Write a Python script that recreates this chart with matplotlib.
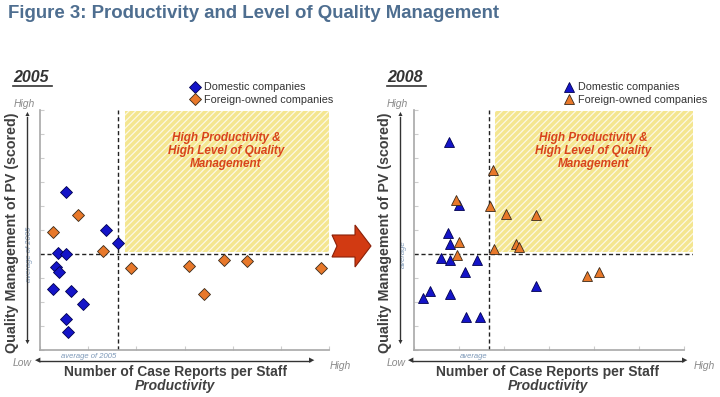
import matplotlib.pyplot as plt
from matplotlib.patches import Rectangle, Polygon

plt.rcParams['font.family'] = ['Liberation Sans', 'DejaVu Sans']
plt.rcParams['hatch.linewidth'] = 0.9

# 2005 panel (x = productivity, y = quality score)
dom05_x = [0.55, 1.37, 1.61, 0.37, 0.54, 0.33, 0.40, 0.26, 0.64, 0.90, 0.53, 0.59]
dom05_y = [6.60, 5.00, 4.45, 4.05, 4.00, 3.47, 3.26, 2.53, 2.47, 1.92, 1.28, 0.76]
for05_x = [0.28, 0.79, 1.31, 1.89, 3.09, 3.82, 4.30, 3.40, 5.84]
for05_y = [4.93, 5.63, 4.14, 3.43, 3.51, 3.75, 3.71, 2.32, 3.43]
avg05_x, avg05_y = 1.62, 4.0

# 2008 panel
dom08_x = [0.77, 1.00, 0.75, 0.80, 0.59, 0.80, 1.41, 1.13, 0.36, 0.21, 0.79, 2.72, 1.16, 1.47]
dom08_y = [8.68, 6.04, 4.89, 4.40, 3.82, 3.75, 3.75, 3.26, 2.46, 2.18, 2.32, 2.67, 1.36, 1.39]
for08_x = [1.75, 0.93, 1.70, 2.04, 2.72, 1.00, 2.27, 2.34, 1.77, 0.96, 3.85, 4.12]
for08_y = [7.50, 6.25, 6.00, 5.67, 5.63, 4.51, 4.40, 4.31, 4.19, 3.96, 3.08, 3.26]
avg08_x, avg08_y = 1.66, 4.0

legend_labels = ['Domestic companies', 'Foreign-owned companies']
zone_text = 'High Productivity &\nHigh Level of Quality\nManagement'

W, H = 720, 397
fig = plt.figure(figsize=(7.2, 3.97), dpi=100)


def fx(px):
    return px / W


def fy(py):
    return 1 - py / H


BLUE = '#1414C8'
ORANGE = '#E8782A'
GREY = '#8A8A8A'
AVG = '#7C98B8'


def panel(left, right, year, dx, dy, fx_, fy_, ax_, ay_, marker, ms, xmax, avg_label,
          leg_x, arr_x, arr_x0, arr_x1, lowx, highx):
    ax = fig.add_axes([fx(left), fy(350), fx(right - left), fy(110) - fy(350)])
    ax.set_xlim(0, xmax)
    ax.set_ylim(0, 10)
    ax.set_xticks(range(7))
    ax.set_yticks(range(11))
    ax.tick_params(direction='in', length=3, color='#cccccc', labelleft=False, labelbottom=False)
    for s in ['top', 'right']:
        ax.spines[s].set_visible(False)
    for s in ['left', 'bottom']:
        ax.spines[s].set_color('#a8a8a8')
        ax.spines[s].set_linewidth(1.2)
    ax.spines['bottom'].set_bounds(0, 6)

    ax.add_patch(Rectangle((ax_ + 0.15, ay_ + 0.1), 6.0 - ax_ - 0.15 + (xmax - 6), 9.85 - ay_,
                           facecolor='#F4E690', edgecolor='#FCF8E4', hatch='/////', lw=0, zorder=0))
    ax.text((ax_ + 6.0 + (xmax - 6)) / 2 + 0.05, 9.1, zone_text, ha='center', va='top',
            color='#D8441C', fontsize=8.5, fontweight='bold', style='italic',
            linespacing=1.15)
    ax.axvline(ax_, color='#222222', ls=(0, (3, 2)), lw=1)
    ax.axhline(ay_, color='#222222', ls=(0, (3, 2)), lw=1)

    ms_edge = 0.6
    h1, = ax.plot(dx, dy, ls='none', marker=marker, ms=ms, color=BLUE,
                  mec='#000050', mew=ms_edge, zorder=3)
    h2, = ax.plot(fx_, fy_, ls='none', marker=marker, ms=ms, color=ORANGE,
                  mec='#3a2a1a', mew=ms_edge, zorder=3)

    fig.legend([h1, h2], legend_labels, loc='upper left',
               bbox_to_anchor=(fx(leg_x), fy(77)), frameon=False, fontsize=7.8,
               handletextpad=0.35, labelspacing=0.25, borderpad=0, handlelength=1.0,
               labelcolor='#333333')

    # year heading
    fig.text(fx(left - 27), fy(77), year, fontsize=11.5, fontweight='bold', style='italic',
             color='#333333', va='center', ha='left')
    fig.add_artist(plt.Line2D([fx(left - 27), fx(left + 12)], [fy(86), fy(86)],
                              color='#333333', lw=1.2))

    # axis arrows
    fig.add_artist(plt.Line2D([fx(arr_x), fx(arr_x)], [fy(117), fy(340)], color='#333333', lw=1.0))
    fig.text(fx(arr_x), fy(115), '\u25B2', fontsize=5, ha='center', va='center', color='#333333')
    fig.text(fx(arr_x), fy(342), '\u25BC', fontsize=5, ha='center', va='center', color='#333333')
    fig.add_artist(plt.Line2D([fx(arr_x0 + 2), fx(arr_x1 - 2)], [fy(361), fy(361)], color='#333333', lw=1.0))
    fig.text(fx(arr_x0), fy(361), '\u25C0', fontsize=5, ha='center', va='center', color='#333333')
    fig.text(fx(arr_x1), fy(361), '\u25B6', fontsize=5, ha='center', va='center', color='#333333')

    fig.text(fx(arr_x - 3), fy(104), 'High', fontsize=7.5, style='italic', color=GREY,
             ha='center', va='center')
    fig.text(fx(lowx), fy(363), 'Low', fontsize=7.5, style='italic', color=GREY,
             ha='center', va='center')
    fig.text(fx(highx), fy(366), 'High', fontsize=7.5, style='italic', color=GREY,
             ha='center', va='center')

    cx = (arr_x0 + arr_x1) / 2
    fig.text(fx(cx), fy(372), 'Number of Case Reports per Staff', fontsize=10,
             fontweight='bold', color='#404040', ha='center', va='center')
    fig.text(fx(cx), fy(386), 'Productivity', fontsize=10, fontweight='bold',
             style='italic', color='#404040', ha='center', va='center')
    fig.text(fx(arr_x - 15), fy(233), 'Quality Management of PV (scored)', fontsize=10.3,
             fontweight='bold', color='#404040', ha='center', va='center', rotation=90)

    # average labels
    ax.text(-0.15, ay_, avg_label, rotation=90, fontsize=5.5, style='italic', color=AVG,
            ha='right', va='center')
    ax.text(ax_ - 0.03, -0.12, avg_label, fontsize=5.5, style='italic', color=AVG,
            ha='right', va='top')
    return ax


panel(40, 329, '2005', dom05_x, dom05_y, for05_x, for05_y, avg05_x, avg05_y, 'D', 5.8, 6.0,
      'average of 2005', 184, 27, 38, 312, 22, 340)
panel(414, 693, '2008', dom08_x, dom08_y, for08_x, for08_y, avg08_x, avg08_y, '^', 7.8, 6.2,
      'average', 558, 400, 411, 685, 396, 704)

fig.text(fx(8), fy(14), 'Figure 3: Productivity and Level of Quality Management',
         fontsize=13.4, fontweight='bold', color='#4E6E90', ha='left', va='center')

arrow = [(332, 235), (355, 235), (355, 225), (371, 246), (355, 267), (355, 257),
         (332, 257), (337, 246)]
fig.add_artist(Polygon([(fx(x), fy(y)) for x, y in arrow], closed=True,
                       transform=fig.transFigure, facecolor='#D23A12', edgecolor='#8A2008', lw=0.8))

fig.savefig('out.png', dpi=100)
